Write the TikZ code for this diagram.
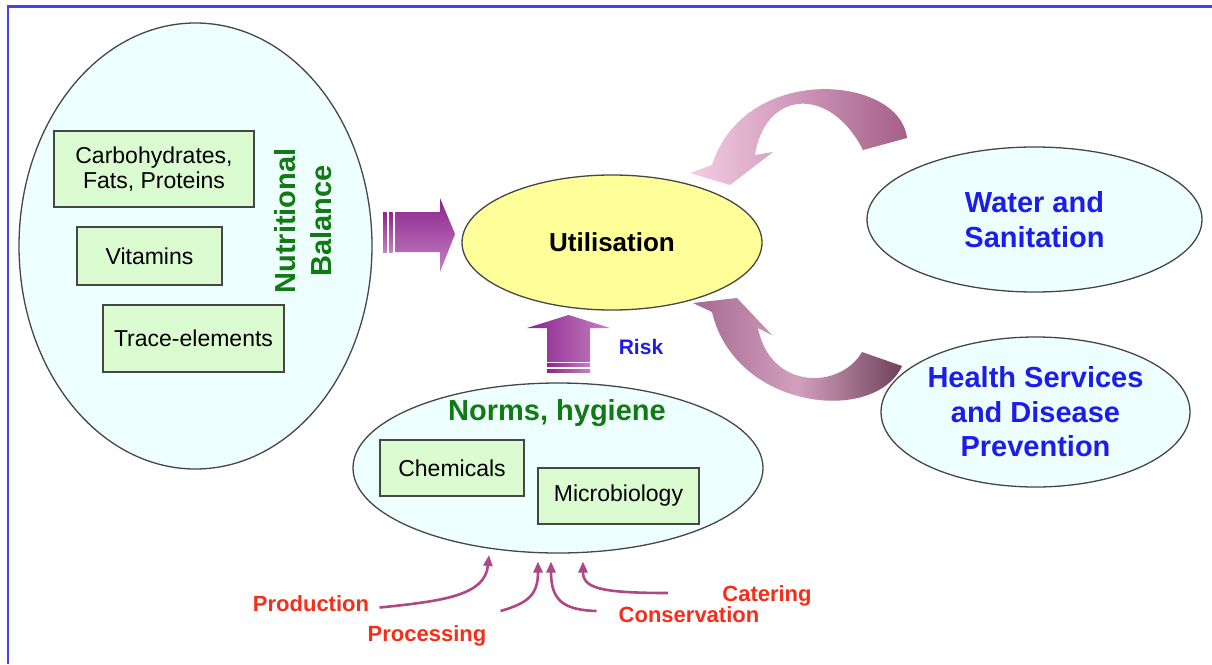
\documentclass[tikz,border=0pt]{standalone}
\usepackage{fontspec}
\setmainfont{Liberation Sans}
\usetikzlibrary{shapes.geometric,arrows.meta}
\definecolor{frameblue}{RGB}{64,64,255}
\definecolor{ellfill}{RGB}{238,255,255}
\definecolor{boxfill}{RGB}{218,252,208}
\definecolor{utilfill}{RGB}{255,255,153}
\definecolor{edgegray}{RGB}{70,70,70}
\definecolor{greentxt}{RGB}{18,122,18}
\definecolor{bluetxt}{RGB}{28,28,235}
\definecolor{redtxt}{RGB}{245,45,25}
\definecolor{pdark}{RGB}{140,35,140}
\definecolor{plight}{RGB}{195,130,195}
\definecolor{thinarr}{RGB}{175,70,135}
\definecolor{arrTL}{RGB}{245,205,228}
\definecolor{arrTM}{RGB}{205,150,185}
\definecolor{arrTR}{RGB}{165,95,135}
\definecolor{arrBL}{RGB}{165,105,145}
\definecolor{arrBM}{RGB}{210,160,190}
\definecolor{arrBR}{RGB}{110,65,90}
\begin{document}
\begin{tikzpicture}[x=1pt,y=-1pt,
  ell/.style={ellipse,draw=edgegray,line width=1.3pt,fill=ellfill,inner sep=0pt},
  boxn/.style={rectangle,draw=edgegray,line width=1.3pt,fill=boxfill,inner sep=0pt,align=center,
    font=\fontsize{23}{25}\selectfont,text=black},
  headtxt/.style={font=\bfseries\fontsize{29}{36}\selectfont,text=greentxt,align=center},
  sidetxt/.style={font=\bfseries\fontsize{29}{34.5}\selectfont,text=bluetxt,align=center},
  lbl/.style={font=\bfseries\fontsize{22}{24}\selectfont,text=redtxt,inner sep=0pt},
  thin/.style={draw=thinarr,line width=2.6pt,-{Triangle[length=11pt,width=9pt]}}
]
\useasboundingbox (0,0) rectangle (1212,664);
\fill[white] (0,0) rectangle (1212,664);
% frame
\draw[frameblue,line width=2.5pt] (7,6.5) -- (1212,6.5);
\draw[frameblue,line width=2.5pt] (8,5.5) -- (8,664);

% left ellipse
\node[ell,minimum width=353pt,minimum height=446pt] (nut) at (195.5,246) {};
\node[boxn,minimum width=200pt,minimum height=76pt] (carb) at (154,169) {Carbohydrates,\\Fats, Proteins};
\node[boxn,minimum width=145pt,minimum height=58pt] (vit) at (149.5,256) {Vitamins};
\node[boxn,minimum width=181pt,minimum height=67pt] (trace) at (193.5,338.5) {Trace-elements};
\node[headtxt,rotate=90] (nuttxt) at (303,221) {Nutritional\\Balance};

% utilisation
\node[ellipse,draw=edgegray,line width=1.3pt,fill=utilfill,inner sep=0pt,
  minimum width=300pt,minimum height=135pt,font=\bfseries\fontsize{26}{30}\selectfont] (util) at (612,242.5) {Utilisation};

% curved arrow from water to utilisation
\shade[left color=arrTL,right color=arrTR,middle color=arrTM]
  (690,173) -- (730,185) -- (773,152) -- (755,155)
  .. controls (765,90) and (830,85) .. (863,150) -- (907,138)
  .. controls (900,75) and (745,62) .. (712,165) -- cycle;

% curved arrow from health to utilisation
\shade[left color=arrBL,right color=arrBR,middle color=arrBM]
  (693,303) -- (737,298) -- (772,335) -- (758,328)
  .. controls (770,390) and (840,390) .. (862,352) -- (902,366)
  .. controls (875,425) and (735,410) .. (712,312) -- cycle;

% right ellipses
\node[ell,sidetxt,minimum width=335pt,minimum height=145pt] (water) at (1034.5,219.5) {Water and\\Sanitation};
\node[ell,sidetxt,minimum width=309pt,minimum height=150pt] (health) at (1035.5,412) {Health Services\\and Disease\\Prevention};

% norms ellipse
\node[ell,minimum width=410pt,minimum height=170pt] (norms) at (558,468) {};
\node[headtxt] (normstxt) at (557,413) {Norms, hygiene};
\node[boxn,minimum width=144pt,minimum height=56pt] (chem) at (452,468) {Chemicals};
\node[boxn,minimum width=161pt,minimum height=56pt] (micro) at (618.5,496) {Microbiology};

% striped block arrow into utilisation (left)
\shade[top color=pdark,bottom color=plight] (383,212) rectangle (386.5,252);
\shade[top color=pdark,bottom color=plight] (389,212) rectangle (392.5,252);
\shade[top color=pdark,bottom color=plight] (395,212) -- (440,212) -- (440,198) -- (455,234)
  -- (440,272) -- (440,252) -- (395,252) -- cycle;

% striped block arrow into utilisation (from below)
\shade[left color=pdark,right color=plight] (547,362) -- (547,328) -- (527,328) -- (568.5,315)
  -- (610,328) -- (590,328) -- (590,362) -- cycle;
\shade[left color=pdark,right color=plight] (547,363.5) rectangle (590,366.5);
\shade[left color=pdark,right color=plight] (547,369) rectangle (590,372.5);
\node[font=\bfseries\fontsize{21}{24}\selectfont,text=bluetxt] (risk) at (641,347) {Risk};

% bottom labels and arrows
\node[lbl] (prod) at (311,604) {Production};
\node[lbl] (proc) at (427,636) {Processing};
\node[lbl] (cons) at (689,615) {Conservation};
\node[lbl] (cat) at (767,596) {Catering};
\coordinate (prodT) at (489,555);
\coordinate (procT) at (538,561.5);
\coordinate (consT) at (551,561.5);
\coordinate (catT) at (583,561.5);
\coordinate (prodS) at (379.5,607.5);
\coordinate (procS) at (500.5,611);
\coordinate (consS) at (596.5,611);
\coordinate (catS) at (668,593);
\draw[thin] (prodS) .. controls (445,601) and (485,595) .. (prodT);
\draw[thin] (procS) .. controls (528,603) and (538,595) .. (procT);
\draw[thin] (consS) .. controls (563,610) and (551,600) .. (consT);
\draw[thin] (catS) .. controls (600,593) and (583,588) .. (catT);
\end{tikzpicture}
\end{document}
